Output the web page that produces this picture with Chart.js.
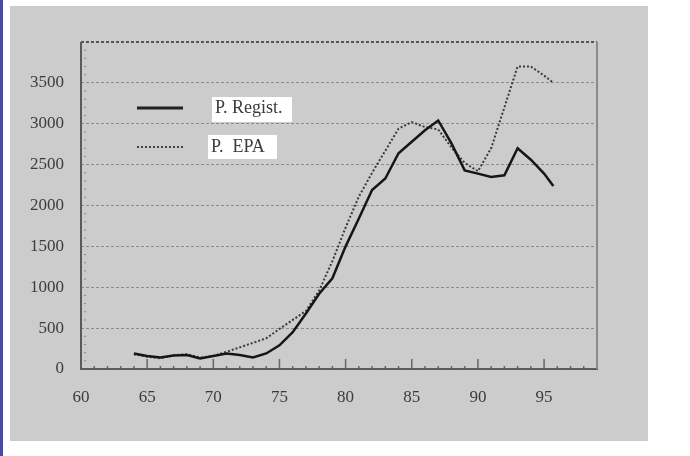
<!DOCTYPE html>
<html>
<head>
<meta charset="utf-8">
<script src="https://cdn.jsdelivr.net/npm/chart.js@4.4.0/dist/chart.umd.min.js"></script>
<style>
  body { margin: 0; background: #fff; width: 690px; height: 456px; position: relative; overflow: hidden; }
  #strip { position: absolute; left: 0; top: 0; width: 3px; height: 456px; background: #4a4a9c; }
  #panel { position: absolute; left: 10px; top: 6px; width: 638px; height: 435px; background: #cccccc; }
</style>
</head>
<body>
<div id="strip"></div>
<div id="panel"><canvas id="chart" width="638" height="435"></canvas></div>
<script>
// years (19xx); the last point stops a little before 96
const years = [64, 65, 66, 67, 68, 69, 70, 71, 72, 73, 74, 75, 76, 77, 78, 79, 80,
               81, 82, 83, 84, 85, 86, 87, 88, 89, 90, 91, 92, 93, 94, 95, 95.7];
const regist = [190, 160, 140, 165, 170, 130, 160, 190, 170, 140, 190, 290, 450, 680, 920, 1110, 1500,
                1840, 2190, 2330, 2640, 2780, 2920, 3040, 2760, 2430, 2390, 2350, 2370, 2700, 2560, 2390, 2240];
const epa = [180, 150, 130, 170, 180, 140, 160, 210, 265, 320, 375, 490, 600, 710, 960, 1320, 1730,
             2110, 2400, 2670, 2940, 3020, 2960, 2930, 2710, 2520, 2420, 2700, 3200, 3700, 3700, 3590, 3500];
const legendLabels = ['P. Regist.', 'P.  EPA'];

const serif = '"Liberation Serif", "DejaVu Serif", serif';
const textColor = '#3c3c3c';

const innerTicks = {
  id: 'innerTicks',
  beforeDatasetsDraw(chart) {
    const { ctx, chartArea: a, scales: { x, y } } = chart;
    ctx.save();
    ctx.strokeStyle = '#666';
    ctx.lineWidth = 1.5;
    for (let v = 61; v < 99; v++) {
      const px = x.getPixelForValue(v);
      const len = v % 5 === 0 ? 10 : 3;
      ctx.beginPath();
      ctx.moveTo(px, a.bottom);
      ctx.lineTo(px, a.bottom - len);
      ctx.stroke();
    }
    ctx.strokeStyle = '#888';
    ctx.lineWidth = 1;
    for (let v = 100; v < 4000; v += 100) {
      if (v % 500 === 0) continue;
      const py = y.getPixelForValue(v);
      ctx.beginPath();
      ctx.moveTo(a.left + 3, py);
      ctx.lineTo(a.left + 5, py);
      ctx.stroke();
    }
    // frame: right side light, left axis dark
    ctx.strokeStyle = '#8a8a8a';
    ctx.lineWidth = 2;
    ctx.beginPath();
    ctx.moveTo(a.right, a.top);
    ctx.lineTo(a.right, a.bottom);
    ctx.stroke();
    ctx.strokeStyle = '#5a5a5a';
    ctx.beginPath();
    ctx.moveTo(a.left, a.top);
    ctx.lineTo(a.left, a.bottom);
    ctx.stroke();
    ctx.restore();
  }
};

const boxLegend = {
  id: 'boxLegend',
  afterDatasetsDraw(chart) {
    const { ctx, chartArea: a } = chart;
    const rows = [
      { y: a.top + 66, box: [a.left + 131, a.top + 55, 80, 25], dash: [], width: 3, color: '#222' },
      { y: a.top + 105, box: [a.left + 127, a.top + 93, 69, 24], dash: [2, 2], width: 2, color: '#444' }
    ];
    ctx.save();
    rows.forEach((r, i) => {
      ctx.setLineDash(r.dash);
      ctx.strokeStyle = r.color;
      ctx.lineWidth = r.width;
      ctx.beginPath();
      ctx.moveTo(a.left + 56, r.y);
      ctx.lineTo(a.left + 102, r.y);
      ctx.stroke();
      ctx.setLineDash([]);
      ctx.fillStyle = '#ffffff';
      ctx.fillRect(...r.box);
      ctx.fillStyle = textColor;
      ctx.font = '18px ' + serif;
      ctx.textBaseline = 'middle';
      ctx.fillText(legendLabels[i], r.box[0] + 3, r.y);
    });
    ctx.restore();
  }
};

new Chart(document.getElementById('chart'), {
  type: 'line',
  data: {
    datasets: [{
      label: legendLabels[0],
      data: years.map((yr, i) => ({ x: yr, y: regist[i] })),
      borderColor: '#161616',
      borderWidth: 2.5,
      pointRadius: 0,
      tension: 0
    }, {
      label: legendLabels[1],
      data: years.map((yr, i) => ({ x: yr, y: epa[i] })),
      borderColor: '#3a3a3a',
      borderWidth: 2,
      borderDash: [2, 2],
      pointRadius: 0,
      tension: 0
    }]
  },
  options: {
    responsive: false,
    animation: false,
    layout: { padding: { left: 0, right: 51, top: 36, bottom: 0 } },
    scales: {
      x: {
        type: 'linear',
        min: 60,
        max: 99,
        afterFit: s => { s.height = 72; },
        grid: { display: false, drawTicks: false },
        border: { display: true, color: '#5a5a5a', width: 2 },
        ticks: {
          stepSize: 5,
          includeBounds: false,
          padding: 18,
          color: textColor,
          font: { family: serif, size: 17 }
        }
      },
      y: {
        min: 0,
        max: 4000,
        afterFit: s => { s.width = 71; },
        grid: {
          drawTicks: false,
          color: ctx => ctx.tick && ctx.tick.value === 4000 ? '#555' : '#8c8c8c',
          lineWidth: ctx => ctx.tick && ctx.tick.value === 4000 ? 2 : 1
        },
        border: { display: false, dash: [3, 2] },
        ticks: {
          stepSize: 500,
          padding: 17,
          color: textColor,
          font: { family: serif, size: 17 },
          callback: v => v > 3500 ? '' : v
        }
      }
    },
    plugins: {
      legend: { display: false },
      tooltip: { enabled: false }
    }
  },
  plugins: [innerTicks, boxLegend]
});
</script>
</body>
</html>
